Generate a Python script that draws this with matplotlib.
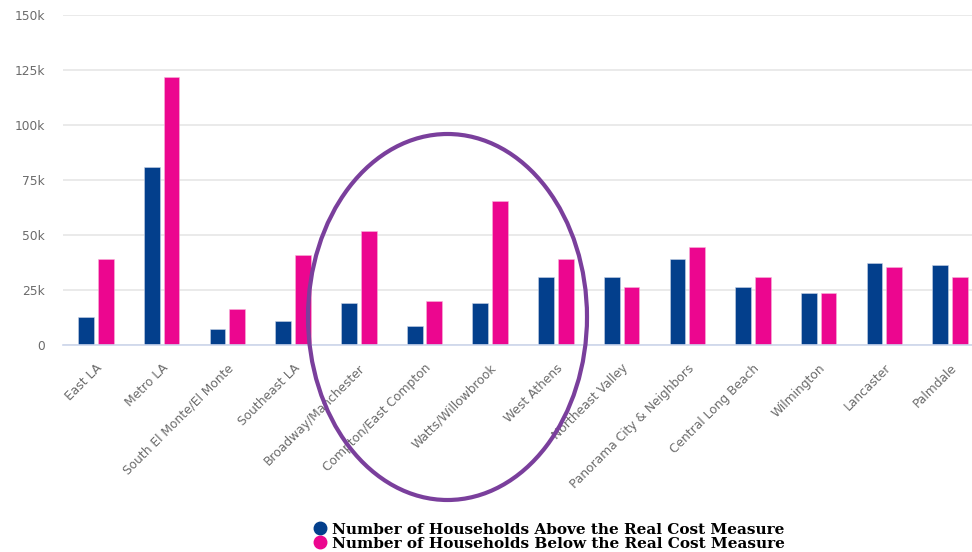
import matplotlib
matplotlib.use("Agg")
import matplotlib.pyplot as plt
from matplotlib.patches import Ellipse
from matplotlib.lines import Line2D
import numpy as np

categories = ["East LA", "Metro LA", "South El Monte/El Monte", "Southeast LA",
              "Broadway/Manchester", "Compton/East Compton", "Watts/Willowbrook",
              "West Athens", "Northeast Valley", "Panorama City & Neighbors",
              "Central Long Beach", "Wilmington", "Lancaster", "Palmdale"]
above = [12700, 81000, 7300, 11000, 19000, 8600, 19000, 31000,
         31000, 39000, 26500, 23600, 37400, 36400]
below = [39000, 122000, 16400, 41000, 52000, 20000, 65500, 39000,
         26500, 44500, 31000, 23600, 35500, 31000]
yticks = [0, 25000, 50000, 75000, 100000, 125000, 150000]
ytick_labels = ["0", "25k", "50k", "75k", "100k", "125k", "150k"]
legend_labels = ["Number of Households Above the Real Cost Measure",
                 "Number of Households Below the Real Cost Measure"]

BLUE = "#033f8c"
PINK = "#ec068f"
PURPLE = "#7a3f9c"

W, H = 972, 552
fig = plt.figure(figsize=(W / 100, H / 100), dpi=100)
ax = fig.add_axes([63 / W, 1 - 345 / H, (W - 63) / W, 330 / H])

x = np.arange(len(categories))
bw = 0.24
ax.bar(x - 0.148, above, width=bw, color=BLUE, edgecolor="#c9d3e6", linewidth=0.4, zorder=3)
ax.bar(x + 0.152, below, width=bw, color=PINK, edgecolor="#f7b3d8", linewidth=0.4, zorder=3)

ax.set_xlim(-0.5, 13.335)
ax.set_ylim(0, 150000)
ax.set_yticks(yticks)
ax.set_yticklabels(ytick_labels)
ax.set_xticks(x)
ax.set_xticklabels(categories, rotation=45, ha="right", rotation_mode="anchor")
ax.tick_params(axis="x", length=0, pad=12, labelsize=8.8, labelcolor="#6b6b6b")
ax.tick_params(axis="y", length=0, pad=13, labelsize=8.8, labelcolor="#6b6b6b")
for lab in ax.get_xticklabels() + ax.get_yticklabels():
    lab.set_family(["DejaVu Sans"])

ax.grid(axis="y", color="#e6e6e6", linewidth=1.2, zorder=0)
for s in ["top", "right", "left"]:
    ax.spines[s].set_visible(False)
ax.spines["bottom"].set_color("#ccd6eb")
ax.spines["bottom"].set_linewidth(1.2)
ax.spines["bottom"].set_zorder(4)

# annotation ellipse
ell = Ellipse((447.5 / W, 1 - 317 / H), 279 / W, 366 / H, transform=fig.transFigure,
              fill=False, edgecolor=PURPLE, linewidth=3.0, zorder=10)
fig.add_artist(ell)

# legend
handles = [Line2D([], [], marker="o", linestyle="", color=BLUE, markersize=9),
           Line2D([], [], marker="o", linestyle="", color=PINK, markersize=9)]
leg = fig.legend(handles, legend_labels, loc="upper left",
                 bbox_to_anchor=(305 / W, 1 - 515 / H), frameon=False,
                 labelspacing=0.0, handletextpad=0.3, borderpad=0, handlelength=1.0,
                 prop={"family": "DejaVu Serif", "weight": "bold", "size": 11})

fig.savefig("out.png", dpi=100, facecolor="white")
